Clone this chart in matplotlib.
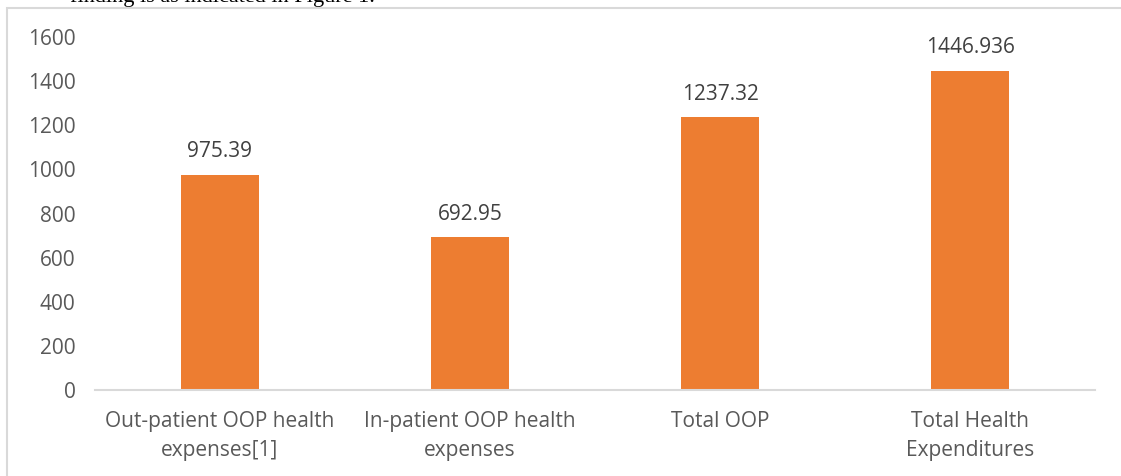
import numpy as np
import matplotlib.pyplot as plt
from matplotlib.patches import Rectangle

# ========================================================
# DATA

CATEGORIES = [
    "Out-patient OOP health\nexpenses[1]",
    "In-patient OOP health\nexpenses",
    "Total OOP",
    "Total Health\nExpenditures",
]
VALUES = [975.39, 692.95, 1237.32, 1446.936]
VALUE_LABELS = ["975.39", "692.95", "1237.32", "1446.936"]
Y_TICKS = [0, 200, 400, 600, 800, 1000, 1200, 1400, 1600]

BAR_COLOR = "#ED7D31"
TEXT_COLOR = "#595959"
FONT = ["Open Sans", "DejaVu Sans"]
FS = 15

# ========================================================
# FIGURE

W, H = 1121, 476
fig = plt.figure(figsize=(W / 100, H / 100), dpi=100)

# chart frame (the screenshot shows the box of the embedded chart)
fig.patches.append(
    Rectangle((7 / W, -0.1), 1.2, (H - 8) / H + 0.1, transform=fig.transFigure,
              facecolor="white", edgecolor="#d9d9d9", linewidth=1.5, zorder=-5)
)

# cut-off document text above the chart
fig.text(70 / W, 1 - 2 / H, "finding is as indicated in Figure 1.",
         family=["Liberation Serif"], fontsize=16, color="black",
         ha="left", va="baseline", zorder=-6)

ax = fig.add_axes([95 / W, 1 - 390 / H, 1000 / W, (390 - 37) / H])
x = np.arange(len(CATEGORIES))
bars = ax.bar(x, VALUES, width=0.31, color=BAR_COLOR, zorder=2)

for b, lab in zip(bars, VALUE_LABELS):
    ax.annotate(lab, (b.get_x() + b.get_width() / 2, b.get_height()),
                xytext=(0, 9), textcoords="offset points",
                ha="center", va="bottom", fontsize=FS, color="#404040",
                family=FONT)

ax.set_xlim(-0.5, len(CATEGORIES) - 0.5)
ax.set_ylim(0, 1600)
ax.set_yticks(Y_TICKS)
ax.set_xticks(x)
ax.set_xticklabels(CATEGORIES, fontsize=FS, color=TEXT_COLOR, family=FONT,
                   linespacing=1.5)
for t in ax.get_yticklabels():
    t.set_fontsize(FS)
    t.set_color(TEXT_COLOR)
    t.set_family(FONT)

ax.tick_params(axis="both", length=0)
ax.tick_params(axis="y", pad=14)
ax.tick_params(axis="x", pad=15)
for s in ["top", "right", "left"]:
    ax.spines[s].set_visible(False)
ax.spines["bottom"].set_color("#d9d9d9")
ax.spines["bottom"].set_linewidth(1.5)
ax.patch.set_alpha(0)

fig.savefig("out.png", dpi=100)
